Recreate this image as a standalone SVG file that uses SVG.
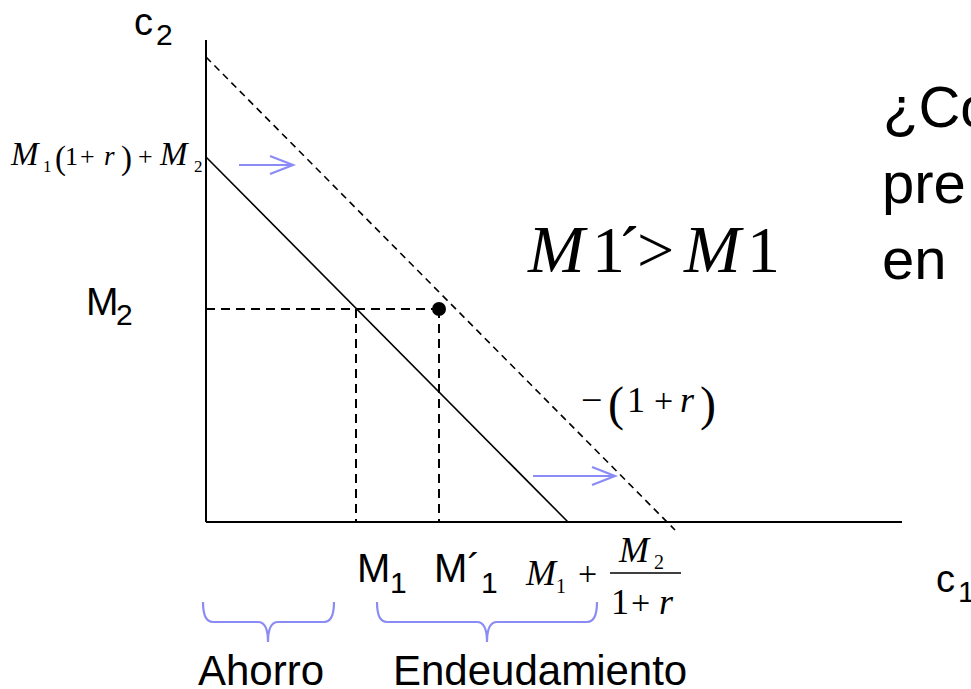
<svg xmlns="http://www.w3.org/2000/svg" width="971" height="689" viewBox="0 0 971 689">
<defs>
<style>
.ax{stroke:#000;stroke-width:2;fill:none}
.ln{stroke:#000;stroke-width:1.6;fill:none}
.dl{stroke:#000;stroke-width:2;fill:none;stroke-dasharray:9,6}
.dl2{stroke:#000;stroke-width:1.6;fill:none;stroke-dasharray:7,5}
.bl{stroke:#8b8bf5;stroke-width:2.2;fill:none}
.ar{font-family:"Liberation Sans",Arial,sans-serif;fill:#000}
.tm{font-family:"Liberation Serif","Times New Roman",serif;fill:#000}
.it{font-style:italic}
</style>
</defs>
<g id="connectors">
<line class="ax" x1="206" y1="40" x2="206" y2="522"/>
<line class="ax" x1="206" y1="522" x2="902" y2="522"/>
<line class="ln" x1="206" y1="157" x2="568" y2="522"/>
<line class="dl2" x1="206" y1="57" x2="675" y2="530"/>
<line class="dl" x1="206" y1="309" x2="438" y2="309"/>
<line class="dl" x1="356" y1="309" x2="356" y2="522"/>
<line class="dl" x1="439" y1="309" x2="439" y2="522"/>
<g id="arrow1"><line class="bl" x1="239" y1="165" x2="293" y2="165"/><polyline class="bl" points="270,156 293,165 270,174"/></g>
<g id="arrow2"><line class="bl" x1="533" y1="476" x2="615" y2="476"/><polyline class="bl" points="592,467 615,476 592,485"/></g>
</g>
<g id="point"><circle cx="439" cy="309" r="7" fill="#000"/></g>
<g id="brace-ahorro"><path class="bl" d="M203,602 Q203,622 213,622 L258,622 Q268,622 268,642 Q268,622 278,622 L324,622 Q334,622 334,602"/></g>
<g id="brace-endeudamiento"><path class="bl" d="M377,602 Q377,622 387,622 L477,622 Q487,622 487,642 Q487,622 497,622 L587,622 Q597,622 597,602"/></g>
<g id="label-c2"><text class="ar" x="134" y="35" font-size="38">c</text><text class="ar" x="156" y="45" font-size="30">2</text></g>
<g id="label-c1"><text class="ar" x="936" y="592" font-size="38">c</text><text class="ar" x="958" y="602" font-size="30">1</text></g>
<g id="label-M2"><text class="ar" x="86" y="315" font-size="39">M</text><text class="ar" x="116" y="325" font-size="30">2</text></g>
<g id="label-M1"><text class="ar" x="357" y="582" font-size="40">M</text><text class="ar" x="390" y="593" font-size="30">1</text></g>
<g id="label-M1p"><text class="ar" x="434" y="582" font-size="40">M´</text><text class="ar" x="481" y="593" font-size="30">1</text></g>
<g id="label-intercept-y">
<text class="tm it" x="11" y="165" font-size="33">M</text>
<text class="tm" x="43" y="172" font-size="17">1</text>
<text class="tm" x="55" y="169" font-size="33">(</text>
<text class="tm" x="65" y="165" font-size="26">1</text>
<text class="tm" x="80" y="165" font-size="26">+</text>
<text class="tm it" x="104" y="165" font-size="27">r</text>
<text class="tm" x="121" y="169" font-size="33">)</text>
<text class="tm" x="138" y="165" font-size="26">+</text>
<text class="tm it" x="160" y="165" font-size="33">M</text>
<text class="tm" x="194" y="172" font-size="17">2</text>
</g>
<g id="label-intercept-x">
<text class="tm it" x="526" y="585" font-size="36">M</text>
<text class="tm" x="556" y="593" font-size="20">1</text>
<text class="tm" x="578" y="585" font-size="34">+</text>
<text class="tm it" x="619" y="562" font-size="36">M</text>
<text class="tm" x="654" y="569" font-size="20">2</text>
<line x1="610" y1="573" x2="681" y2="573" stroke="#000" stroke-width="1.4"/>
<text class="tm" x="611" y="614" font-size="36">1</text>
<text class="tm" x="631" y="614" font-size="34">+</text>
<text class="tm it" x="659" y="614" font-size="36">r</text>
</g>
<g id="label-slope">
<text class="tm" x="581" y="413" font-size="38">−</text>
<text class="tm" x="608" y="420" font-size="48">(</text>
<text class="tm" x="627" y="412" font-size="36">1</text>
<text class="tm" x="654" y="412" font-size="34">+</text>
<text class="tm it" x="680" y="412" font-size="36">r</text>
<text class="tm" x="700" y="420" font-size="48">)</text>
</g>
<g id="label-ineq">
<text class="tm it" x="528" y="272" font-size="68">M</text>
<text class="tm" x="592" y="272" font-size="66">1</text>
<text class="tm" x="618" y="272" font-size="66">´</text>
<text class="tm" x="637" y="272" font-size="66">&gt;</text>
<text class="tm it" x="684" y="272" font-size="68">M</text>
<text class="tm" x="747" y="272" font-size="66">1</text>
</g>
<g id="label-question">
<text class="ar" x="883" y="127" font-size="58">¿Có</text>
<text class="ar" x="882" y="203" font-size="58">pre</text>
<text class="ar" x="882" y="279" font-size="58">en</text>
</g>
<g id="label-ahorro"><text class="ar" x="198" y="685" font-size="42">Ahorro</text></g>
<g id="label-endeudamiento"><text class="ar" x="393" y="685" font-size="42">Endeudamiento</text></g>
</svg>
